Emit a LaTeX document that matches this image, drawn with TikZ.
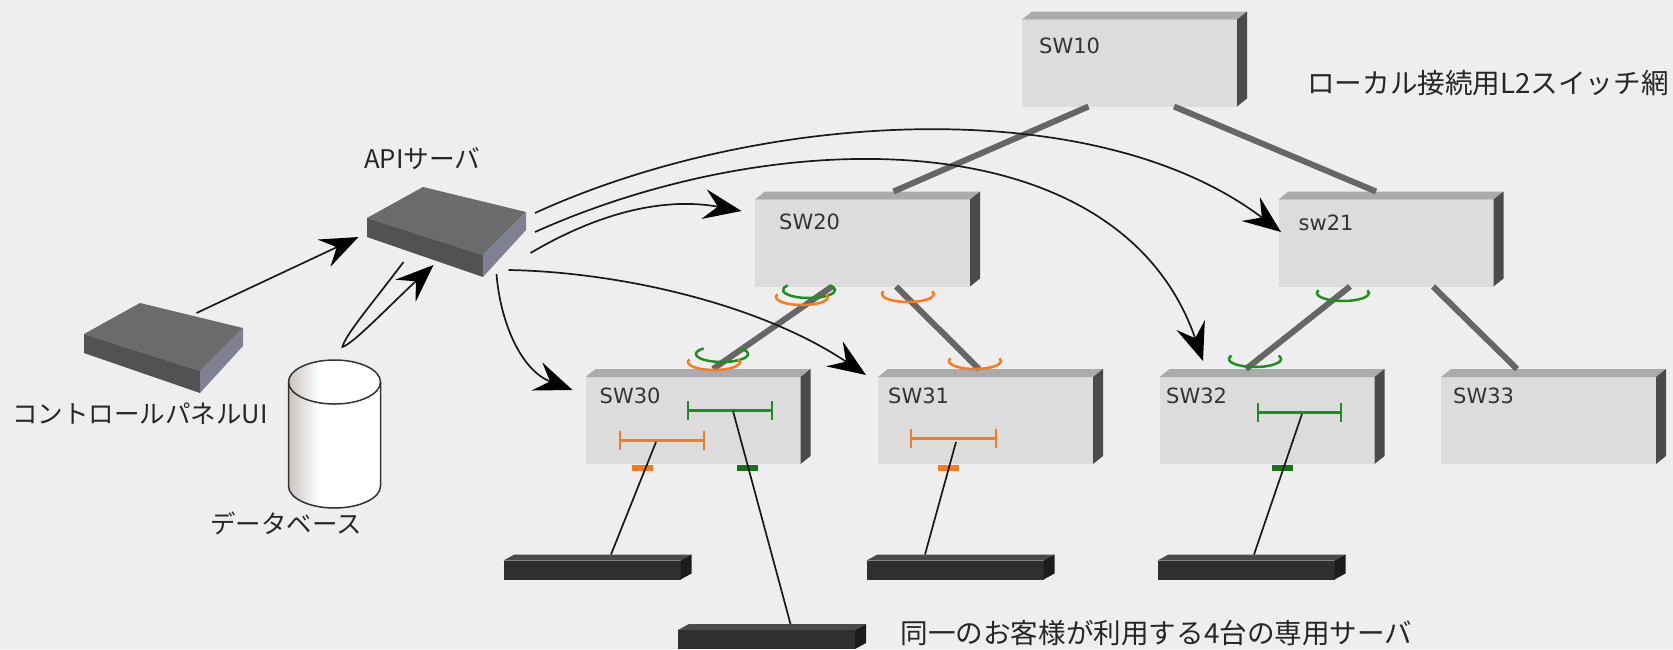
\documentclass[tikz,border=0pt]{standalone}
\usepackage{fontspec}
\setmainfont{DejaVu Sans}
\newfontfamily\cjkfont{Noto Sans CJK JP}
\usetikzlibrary{arrows.meta}
\definecolor{bgcol}{HTML}{EEEEEE}
\definecolor{swfront}{HTML}{DCDCDC}
\definecolor{swtop}{HTML}{ABABAB}
\definecolor{swside}{HTML}{4A4A4A}
\definecolor{trunkcol}{HTML}{666666}
\definecolor{vlanor}{HTML}{FA7A1E}
\definecolor{vlangr}{HTML}{1E8F1E}
\definecolor{hosttop}{HTML}{4A4A4A}
\definecolor{hostfront}{HTML}{2F2F2F}
\definecolor{hostside}{HTML}{1C1C1C}
\definecolor{dbedge}{HTML}{C9C3BF}
\pgfdeclarehorizontalshading{dbshading}{100bp}{color(0bp)=(dbedge); color(25bp)=(dbedge); color(42bp)=(white); color(100bp)=(white)}
\tikzset{
	swbox/.style = {rectangle, inner sep=0pt, outer sep=0pt, fill=swfront,
		minimum width=215pt, minimum height=87pt},
	swname/.style = {inner sep=0pt, anchor=west, text=black!80, font=\fontsize{21}{24}\selectfont},
	hostbox/.style = {rectangle, inner sep=0pt, outer sep=0pt, fill=hostfront,
		minimum width=177pt, minimum height=19pt},
	capt/.style = {inner sep=0pt, text=black!85, font=\cjkfont\fontsize{#1}{30}\selectfont},
	trunk/.style = {draw=trunkcol, line width=6pt},
	wire/.style = {draw=black!90, line width=1.7pt},
	call/.style = {wire, -{Stealth[length=38pt, width=30pt, inset=14pt, black]}},
	vbaro/.style = {draw=vlanor, line width=3pt, {Bar[width=19pt, line width=2pt]}-{Bar[width=19pt, line width=2pt]}},
	vbarg/.style = {draw=vlangr, line width=3pt, {Bar[width=19pt, line width=2pt]}-{Bar[width=19pt, line width=2pt]}},
	srvspot/.style = {rectangle, inner sep=0pt, minimum width=159pt, minimum height=90pt},
	dbspot/.style = {rectangle, inner sep=0pt, minimum width=92pt, minimum height=148pt}
}
% switch with its top and side
\newcommand{\swunit}[5]{
	\node [swbox] (#1) at (#2,#3) {};
	\fill [swtop] (#1.north west) -- ++(10,-8) -- ++(215,0) -- (#1.north east) -- cycle;
	\fill [swside] (#1.north east) -- ++(10,-8) -- ++(0,87) -- ++(-10,8) -- cycle;
	\node [swname] (#1-name) at ([shift={(#5)}]#1.west) {#4};
}
\newcommand{\hostunit}[3]{
	\node [hostbox] (#1) at (#2,#3) {};
	\fill [hosttop] (#1.north west) -- ++(11,-6) -- ++(177,0) -- (#1.north east) -- cycle;
	\fill [hostside] (#1.north east) -- ++(11,-6) -- ++(0,19) -- ++(-11,6) -- cycle;
}
% flat grey server, drawn round the spot node
\newcommand{\srvunit}[3]{
	\node [srvspot] (#1) at (#2,#3) {};
	\fill [black!58] (#2-79.5,#3-14) -- (#2-23.5,#3-45) -- (#2+79.5,#3-20) -- (#2+36.5,#3+23) -- cycle;
	\fill [black!68] (#2-79.5,#3-14) -- (#2+36.5,#3+23) -- (#2+36.5,#3+45) -- (#2-79.5,#3+5) -- cycle;
	\fill [blue!15!black!50] (#2+36.5,#3+23) -- (#2+79.5,#3-20) -- (#2+79.5,#3-2) -- (#2+36.5,#3+45) -- cycle;
}
% open vlan ring
\newcommand{\vring}[4]{
	\draw [draw=#1, line width=2.5pt] ([shift={(#4:26 and 8)}]#2,#3) arc (#4:180-#4:26 and 8);
}
\begin{document}
\begin{tikzpicture}[x=1pt,y=-1pt]
	\fill [bgcol] (0,0) rectangle (1673,649);
	\useasboundingbox (0,0) rectangle (1673,649);

	\swunit{sw10}{1129.5}{63}{SW10}{17,-17}
	\swunit{sw20}{862.5}{243}{SW20}{24,-21}
	\swunit{sw21}{1386}{243}{sw21}{20,-20}
	\swunit{sw30}{693}{420.5}{SW30}{14,-24.5}
	\swunit{sw31}{985.5}{420.5}{SW31}{10,-24.5}
	\swunit{sw32}{1267}{420.5}{SW32}{6.5,-24.5}
	\swunit{sw33}{1548.5}{420.5}{SW33}{12,-24.5}

	\hostunit{hosta}{592}{570}
	\hostunit{hostb}{955}{570}
	\hostunit{hostc}{1246}{570}
	\hostunit{hostd}{766.5}{639.5}

	\srvunit{api}{446.5}{232}
	\srvunit{panel}{163.5}{348}

	% database
	\node [dbspot] (db) at (334.5,434) {};
	\draw [draw=black!80, line width=1.5pt, shading=dbshading, shading angle=0]
		(288.5,382) -- (288.5,486) arc (180:0:46 and 22) -- (380.5,382) arc (0:-180:46 and 22) -- cycle;
	\draw [draw=black!80, line width=1.5pt] (288.5,382) arc (180:0:46 and 22);

	\node [capt=25.7] (api-cap) at (422.5,159) {APIサーバ};
	\node [capt=25.5] (panel-cap) at (140,414) {コントロールパネルUI};
	\node [capt=25.4] (db-cap) at (286,523) {データベース};
	\node [capt=27.6] (l2-cap) at (1488,83) {ローカル接続用L2スイッチ網};
	\node [capt=27.6] (srv-cap) at (1156.5,633) {同一のお客様が利用する4台の専用サーバ};

	% uplinks
	\draw [trunk] ([xshift=-41]sw10.south) -- ([xshift=31,yshift=8]sw20.north);
	\draw [trunk] ([xshift=44.5]sw10.south) -- ([xshift=-10,yshift=8]sw21.north);
	\draw [trunk] ([xshift=-30.5]sw20.south) -- ([xshift=20,yshift=8]sw30.north);
	\draw [trunk] ([xshift=33.5]sw20.south) -- ([xshift=-6.5,yshift=8]sw31.north);
	\draw [trunk] ([xshift=-36]sw21.south) -- ([xshift=-21,yshift=8]sw32.north);
	\draw [trunk] ([xshift=47]sw21.south) -- ([xshift=-31.5,yshift=8]sw33.north);

	% vlan rings
	\vring{vlangr}{809}{290}{215}
	\vring{vlanor}{802}{297}{200}
	\vring{vlanor}{908}{294}{200}
	\vring{vlangr}{722}{354}{225}
	\vring{vlanor}{714}{362}{200}
	\vring{vlanor}{975}{361}{200}
	\vring{vlangr}{1343}{293}{200}
	\vring{vlangr}{1255}{359}{205}

	% vlan bars and ports
	\coordinate (baro-a) at (619,440);
	\coordinate (baro-b) at (705,440);
	\coordinate (barg-a) at (687,410);
	\coordinate (barg-b) at (773,410);
	\coordinate (barp-a) at (910,438);
	\coordinate (barp-b) at (997,438);
	\coordinate (barq-a) at (1257,412);
	\coordinate (barq-b) at (1342,412);
	\draw [vbaro] (baro-a) -- (baro-b);
	\draw [vbarg] (barg-a) -- (barg-b);
	\draw [vbaro] (barp-a) -- (barp-b);
	\draw [vbarg] (barq-a) -- (barq-b);
	\fill [vlanor] (632,465) rectangle (653,471);
	\fill [vlangr!80!black] (737,465) rectangle (758,471);
	\fill [vlanor] (938,465) rectangle (959,471);
	\fill [vlangr!80!black] (1272,465) rectangle (1293,471);

	% host lines
	\coordinate (tapa) at (656,442);
	\coordinate (tapb) at (733,411);
	\coordinate (tapc) at (956,442);
	\coordinate (tapd) at (1302,414);
	\draw [wire] (tapa) -- ([xshift=19,yshift=6]hosta.north);
	\draw [wire] (tapb) -- ([xshift=24,yshift=6]hostd.north);
	\draw [wire] (tapc) -- ([xshift=-30,yshift=6]hostb.north);
	\draw [wire] (tapd) -- ([xshift=8,yshift=6]hostc.north);

	% calls
	\draw [call] ([shift={(33,-35)}]panel.center) -- ([shift={(-88,5)}]api.center);
	\draw [call] ([shift={(-43,30)}]api.center)
		.. controls (375,300) and (345,335) .. ([shift={(8,-13)}]db.north)
		.. controls (352,345) and (390,305) .. ([shift={(-13,33)}]api.center);
	\draw [call] ([shift={(88.5,-19)}]api.center) .. controls (760,110) and (1095,91) .. ([shift={(-105,-11)}]sw21.center);
	\draw [call] ([shift={(88.5,0)}]api.center) .. controls (780,122) and (1120,120) .. ([shift={(43.5,-16)}]sw32.north west);
	\draw [call] ([shift={(84,21)}]api.center) .. controls (600,212) and (665,197) .. ([shift={(-121,-32)}]sw20.center);
	\draw [call] ([shift={(62,38)}]api.center) .. controls (620,272) and (760,304) .. ([shift={(-12,-2)}]sw31.north west);
	\draw [call] ([shift={(50,42)}]api.center) .. controls (500,320) and (520,370) .. ([shift={(-13,13)}]sw30.north west);
\end{tikzpicture}
\end{document}
